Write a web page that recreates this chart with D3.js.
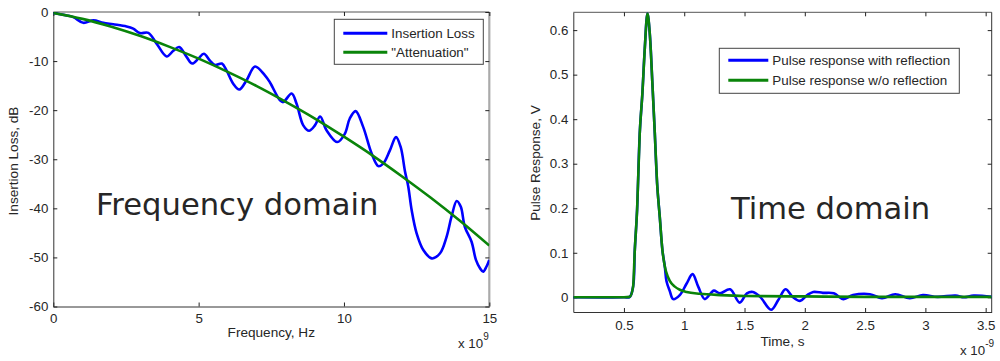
<!DOCTYPE html>
<html>
<head>
<meta charset="utf-8">
<script src="https://cdn.jsdelivr.net/npm/d3@7"></script>
<style>
  body { margin: 0; background: #fff; }
  text { font-family: "Liberation Sans", Arial, sans-serif; fill: #262626; }
</style>
</head>
<body>
<svg id="chart" width="1000" height="361"></svg>
<script>
// ---- frequency domain (GHz, dB) ----
var freqIL = [0, 0.46, 0.69, 1.03, 1.38, 1.72, 2.06, 2.52, 2.75, 2.98, 3.27, 3.56, 3.9, 4.13, 4.33, 4.59,
  4.78, 4.99, 5.18, 5.39, 5.56, 5.8, 5.96, 6.19, 6.4, 6.65, 6.94, 7.28, 7.45, 7.8, 7.91, 8.2, 8.37, 8.6,
  8.8, 9.0, 9.18, 9.4, 9.77, 10.03, 10.2, 10.4, 10.66, 10.95, 11.18, 11.35, 11.58, 11.79, 11.95, 12.1,
  12.21, 12.33, 12.5, 12.73, 13.02, 13.3, 13.53, 13.7, 13.88, 14.02, 14.16, 14.39, 14.54, 14.68, 14.79, 14.9, 15];
var lossIL = [-0.2, -0.7, -1.05, -2.2, -1.7, -2.2, -2.5, -2.95, -3.4, -4.3, -4.25, -6.5, -9.05, -7.9, -7.15, -9.2,
  -10.5, -9.5, -8.5, -9.9, -10.8, -10.5, -11.9, -14.6, -15.8, -13.9, -11.1, -12.9, -14.3, -18, -18.35, -16.6, -18.7, -23.1,
  -24.2, -23.1, -21.3, -24.1, -26.5, -24.8, -21.7, -20.2, -23.4, -28.8, -31.4, -30.9, -28.2, -25.5, -27.5, -32.5,
  -35.5, -40.4, -45.1, -48.5, -50.2, -49.2, -45.8, -41.7, -38.5, -39.7, -43.8, -46.8, -50.5, -52.2, -52.9, -51.9, -50.5];
var freqAtt = [0, 1, 2, 3, 4, 5, 6, 7, 8, 9, 10, 11, 12, 13, 14, 15];
var lossAtt = [-0.2, -1.4, -3.0, -4.9, -7.1, -9.5, -12.2, -15.1, -18.3, -21.7, -25.4, -29.3, -33.5, -37.9, -42.6, -47.6];
var freqTicks = [0, 5, 10, 15];
var lossTicks = [-60, -50, -40, -30, -20, -10, 0];

// ---- time domain (ns, V) ----
var timeRef = [0.08, 0.5, 0.548, 0.576, 0.59, 0.609, 0.631, 0.653, 0.672, 0.695, 0.714, 0.736, 0.756, 0.775, 0.797,
  0.819, 0.839, 0.853, 0.88, 0.908, 0.963, 1.02, 1.069, 1.116, 1.17, 1.22, 1.246, 1.296, 1.38, 1.46, 1.52, 1.57,
  1.63, 1.72, 1.78, 1.84, 1.9, 1.96, 2.02, 2.07, 2.15, 2.24, 2.32, 2.4, 2.54, 2.64, 2.75, 2.87, 2.98, 3.1, 3.25,
  3.32, 3.4, 3.55];
var vRef = [0, 0, 0.001, 0.024, 0.106, 0.196, 0.368, 0.458, 0.555, 0.637, 0.593, 0.48, 0.368, 0.256, 0.181,
  0.106, 0.069, 0.036, 0.014, -0.004, 0.005, 0.031, 0.052, 0.024, -0.004, 0.009, 0.015, 0.009, 0.018, -0.012, 0.009, 0.012,
  0.001, -0.028, -0.006, 0.018, 0.001, -0.008, 0.005, 0.012, 0.010, 0.009, -0.004, 0.005, 0.007, -0.002, 0.007, -0.002, 0.005, 0.001, 0.004,
  0.0, 0.004, 0.001];
var timeNoRef = [0.08, 0.5, 0.548, 0.576, 0.59, 0.609, 0.631, 0.653, 0.672, 0.695, 0.714, 0.736, 0.756, 0.775, 0.797,
  0.819, 0.839, 0.866, 0.88, 0.922, 0.963, 1.02, 1.13, 1.3, 1.5, 2.0, 2.5, 3.0, 3.55];
var vNoRef = [0, 0, 0.001, 0.024, 0.106, 0.196, 0.368, 0.458, 0.555, 0.637, 0.593, 0.48, 0.368, 0.256, 0.181,
  0.106, 0.069, 0.045, 0.037, 0.024, 0.017, 0.012, 0.008, 0.005, 0.003, 0.002, 0.001, 0.001, 0.001];
var timeTicks = [0.5, 1, 1.5, 2, 2.5, 3, 3.5];
var voltTicks = [0, 0.1, 0.2, 0.3, 0.4, 0.5, 0.6];

var BLUE = "#0000ff", GREEN = "#0a840a";

var svg = d3.select("#chart");

function create_panel(svg, p){
    var x = d3.scaleLinear().domain(p.xDomain).range([p.left, p.right]);
    var y = d3.scaleLinear().domain(p.yDomain).range([p.bottom, p.top]);
    var g = svg.append("g");

    var clipId = "clip" + p.id;
    svg.append("defs").append("clipPath").attr("id", clipId)
      .append("rect").attr("x", p.left).attr("y", p.top)
      .attr("width", p.right - p.left).attr("height", p.bottom - p.top);

    // frame
    g.append("line").attr("x1", p.left).attr("x2", p.right).attr("y1", p.top).attr("y2", p.top)
      .attr("stroke", "#555").attr("stroke-width", 1);
    g.append("line").attr("x1", p.right).attr("x2", p.right).attr("y1", p.top).attr("y2", p.bottom)
      .attr("stroke", p.rightColor).attr("stroke-width", p.rightWidth);

    // mirrored ticks (no labels)
    g.append("g").attr("transform", "translate(0," + p.top + ")")
      .call(d3.axisTop(x).tickValues(p.xTicks).tickSizeInner(-4).tickSizeOuter(0).tickFormat(""))
      .call(function(a){ a.select(".domain").remove(); });
    g.append("g").attr("transform", "translate(" + p.right + ",0)")
      .call(d3.axisRight(y).tickValues(p.yTicks).tickSizeInner(-4).tickSizeOuter(0).tickFormat(""))
      .call(function(a){ a.select(".domain").remove(); });

    // labelled axes
    var xa = g.append("g").attr("transform", "translate(0," + p.bottom + ")")
      .call(d3.axisBottom(x).tickValues(p.xTicks).tickSizeInner(-4).tickSizeOuter(0)
        .tickPadding(p.xPad).tickFormat(function(d){ return String(d); }));
    var ya = g.append("g").attr("transform", "translate(" + p.left + ",0)")
      .call(d3.axisLeft(y).tickValues(p.yTicks).tickSizeInner(-4).tickSizeOuter(0)
        .tickPadding(5).tickFormat(function(d){ return String(d); }));
    [xa, ya].forEach(function(a){
        a.select(".domain").attr("stroke", "#333");
        a.selectAll("text").attr("font-size", 13.3).attr("fill", "#262626")
          .style("font-family", "'Liberation Sans', Arial, sans-serif");
    });
    g.selectAll(".tick line").attr("stroke", "#222");

    // series
    var plot = svg.append("g").attr("clip-path", "url(#" + clipId + ")");
    p.series.forEach(function(s){
        var pts = s.xs.map(function(v, i){ return [v, s.ys[i]]; });
        plot.append("path")
          .attr("d", d3.line().curve(s.curve).x(function(d){ return x(d[0]); }).y(function(d){ return y(d[1]); })(pts))
          .attr("fill", "none").attr("stroke", s.color).attr("stroke-width", 2.6)
          .attr("stroke-linejoin", "round");
    });

    // axis titles
    svg.append("text").attr("x", (p.left + p.right) / 2).attr("y", p.xTitleY)
      .attr("text-anchor", "middle").attr("font-size", 13.6).text(p.xTitle);
    svg.append("text").attr("transform", "translate(" + p.yTitleX + "," + p.yTitleY + ") rotate(-90)")
      .attr("text-anchor", "middle").attr("font-size", 13.6).text(p.yTitle);

    // exponent note
    var ex = svg.append("text").attr("x", p.expX).attr("y", p.expY).attr("font-size", 13.3);
    ex.append("tspan").text("x 10");
    ex.append("tspan").attr("dy", -8).attr("font-size", 10).text(p.exp);

    // big caption
    svg.append("text").attr("x", p.capX).attr("y", p.capY)
      .attr("font-size", 30.6).style("font-family", "'DejaVu Sans', Verdana, sans-serif")
      .attr("fill", "#1a1a22").text(p.caption);

    // legend
    var lg = svg.append("g");
    lg.append("rect").attr("x", p.legend.x).attr("y", p.legend.y)
      .attr("width", p.legend.w).attr("height", p.legend.h)
      .attr("fill", "#fff").attr("stroke", "#444").attr("stroke-width", 1);
    p.series.forEach(function(s, i){
        var ly = p.legend.y + p.legend.first + i * p.legend.step;
        lg.append("line").attr("x1", p.legend.x + 9).attr("x2", p.legend.x + 9 + p.legend.len)
          .attr("y1", ly).attr("y2", ly).attr("stroke", s.color).attr("stroke-width", 3);
        lg.append("text").attr("x", p.legend.x + 13 + p.legend.len).attr("y", ly + 4.6)
          .attr("font-size", 13.4).text(s.name);
    });
}

create_panel(svg, {
    id: "f", left: 53.3, right: 489.3, top: 12, bottom: 306.5,
    xDomain: [0, 15], yDomain: [-60, 0], xTicks: freqTicks, yTicks: lossTicks,
    xPad: 7, rightColor: "#aaa", rightWidth: 2.2,
    xTitle: "Frequency, Hz", xTitleY: 337, yTitle: "Insertion Loss, dB", yTitleX: 17.5, yTitleY: 161,
    expX: 458, expY: 348, exp: "9",
    caption: "Frequency domain", capX: 96, capY: 215,
    legend: { x: 334.3, y: 19.3, w: 149, h: 45, first: 14, step: 19, len: 44 },
    series: [
        { name: "Insertion Loss", xs: freqIL, ys: lossIL, color: BLUE, curve: d3.curveCatmullRom.alpha(0.5) },
        { name: "\"Attenuation\"", xs: freqAtt, ys: lossAtt, color: GREEN, curve: d3.curveMonotoneX }
    ]
});

create_panel(svg, {
    id: "t", left: 573.3, right: 991.7, top: 12.3, bottom: 312,
    xDomain: [0.08, 3.55], yDomain: [-0.033, 0.64], xTicks: timeTicks, yTicks: voltTicks,
    xPad: 8.5, rightColor: "#333", rightWidth: 1,
    xTitle: "Time, s", xTitleY: 346, yTitle: "Pulse Response, V", yTitleX: 539.5, yTitleY: 163,
    expX: 960, expY: 355, exp: "-9",
    caption: "Time domain", capX: 731, capY: 219,
    legend: { x: 719.3, y: 48.3, w: 240, h: 45, first: 12, step: 20, len: 40 },
    series: [
        { name: "Pulse response with reflection", xs: timeRef, ys: vRef, color: BLUE, curve: d3.curveCatmullRom.alpha(0.5) },
        { name: "Pulse response w/o reflection", xs: timeNoRef, ys: vNoRef, color: GREEN, curve: d3.curveMonotoneX }
    ]
});
</script>
</body>
</html>
